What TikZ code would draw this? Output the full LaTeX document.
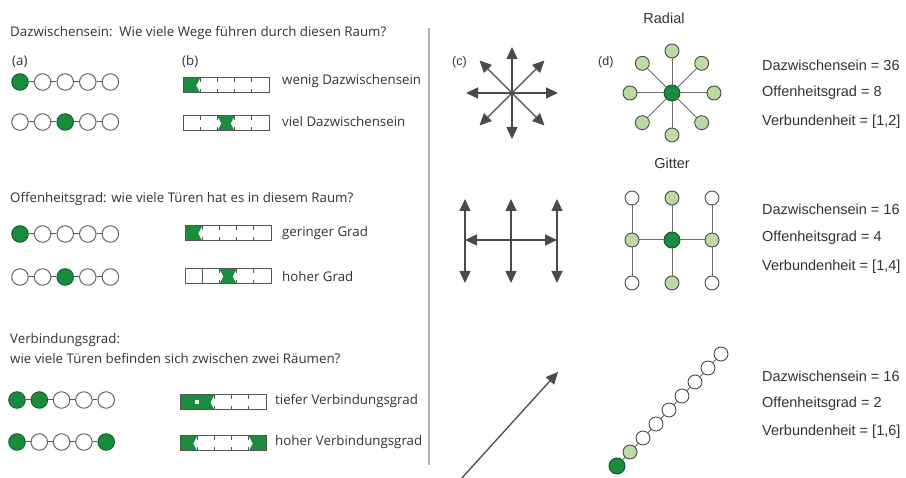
\documentclass[tikz,border=0pt]{standalone}
\usepackage{fontspec}
\setmainfont{Open Sans}
\newfontfamily\arialf{Liberation Sans}
\usetikzlibrary{arrows.meta,calc}
\definecolor{dgreen}{HTML}{1B8C3C}
\definecolor{lgreen}{HTML}{B9DCA3}
\definecolor{txt}{HTML}{333333}
\definecolor{wallc}{HTML}{555555}
\definecolor{arrc}{HTML}{4A4A4A}
\newcommand\greenroom[5]{\fill[dgreen] ({#1+17.2*(#3-1)},#2) -- ({#1+17.2*#3},#2) -- ({#1+17.2*#3-#5},{#2+7.5}) -- ({#1+17.2*#3},{#2+15}) -- ({#1+17.2*(#3-1)},{#2+15}) -- ({#1+17.2*(#3-1)+#4},{#2+7.5}) -- cycle;}
\newcommand\roomticks[3]{\foreach \k in {#3} {\draw[wall] ({#1+17.2*\k},#2) -- ++(0,4) ({#1+17.2*\k},{#2+15}) -- ++(0,-4);}}
\newcommand\roomfull[3]{\foreach \k in {#3} {\draw[wall] ({#1+17.2*\k},#2) -- ++(0,15);}}
\newcommand\roomframe[2]{\draw[wall] (#1,#2) rectangle ++(86,15);}
\begin{document}
\begin{tikzpicture}[x=1pt,y=-1pt,
  ltext/.style={anchor=west,inner sep=0pt,text=txt,font=\fontsize{13.3}{15}\selectfont},
  rtext/.style={anchor=west,inner sep=0pt,text=txt,font=\arialf\fontsize{14.5}{16}\selectfont},
  wall/.style={draw=wallc,line width=1pt},
  wc/.style={circle,draw=wallc!90,line width=1pt,fill=white,minimum size=16.5pt,inner sep=0pt},
  gc/.style={wc,fill=dgreen,draw=dgreen!70!black},
  lk/.style={draw=wallc,line width=1pt},
  rn/.style={circle,draw=arrc,line width=0.9pt,fill=white,minimum size=14pt,inner sep=0pt},
  rl/.style={rn,fill=lgreen},
  rd/.style={rn,fill=dgreen,draw=dgreen!60!black,minimum size=16pt},
  rk/.style={draw=arrc!80,line width=1pt},
  arr/.style={draw=arrc,line width=1.3pt,-{Triangle[length=12pt,width=11pt]}},
  darr/.style={draw=arrc,line width=1.3pt,{Triangle[length=12pt,width=11pt]}-{Triangle[length=12pt,width=11pt]}}
]
\useasboundingbox (0,0) rectangle (906,478);
\fill[white] (0,0) rectangle (906,478);

% separator
\draw[draw=black!30,line width=1.2pt] (429,28) -- (429,465);

% ---------- Section 1 ----------
\node[ltext] (t1) at (10,33) {Dazwischensein:\, Wie viele Wege führen durch diesen Raum?};
\node[ltext] (la) at (12,62) {(a)};
\node[ltext] (lb) at (182,62) {(b)};
\foreach \i/\s in {1/gc,2/wc,3/wc,4/wc,5/wc} \node[\s] (pa\i) at ({20+22.6*(\i-1)},82) {};
\foreach \i/\s in {1/wc,2/wc,3/gc,4/wc,5/wc} \node[\s] (pb\i) at ({20+22.6*(\i-1)},122) {};
\foreach \i [evaluate=\i as \j using int(\i+1)] in {1,...,4} {\draw[lk] (pa\i) -- (pa\j); \draw[lk] (pb\i) -- (pb\j);}
\greenroom{183}{78}{1}{0}{4}
\roomframe{183}{78}
\roomticks{183}{78}{1,2,3,4}
\greenroom{183}{116}{3}{4}{4}
\roomframe{183}{116}
\roomticks{183}{116}{1,2,3,4}
\node[ltext] (w1) at (282,81) {wenig Dazwischensein};
\node[ltext] (w2) at (282,122) {viel Dazwischensein};

% ---------- Section 2 ----------
\node[ltext] (t2) at (10,199) {Offenheitsgrad: wie viele Türen hat es in diesem Raum?};
\foreach \i/\s in {1/gc,2/wc,3/wc,4/wc,5/wc} \node[\s] (qa\i) at ({20+22.6*(\i-1)},234) {};
\foreach \i/\s in {1/wc,2/wc,3/gc,4/wc,5/wc} \node[\s] (qb\i) at ({20+22.6*(\i-1)},277) {};
\foreach \i [evaluate=\i as \j using int(\i+1)] in {1,...,4} {\draw[lk] (qa\i) -- (qa\j); \draw[lk] (qb\i) -- (qb\j);}
\greenroom{185}{226}{1}{0}{4}
\roomframe{185}{226}
\roomticks{185}{226}{1,2,3,4}
\greenroom{185}{269}{3}{4}{4}
\roomframe{185}{269}
\roomfull{185}{269}{1}
\roomticks{185}{269}{2,3,4}
\node[ltext] (g1) at (282,233) {geringer Grad};
\node[ltext] (g2) at (282,277) {hoher Grad};

% ---------- Section 3 ----------
\node[ltext] (t3) at (10,340) {Verbindungsgrad:};
\node[ltext] (t4) at (10,359) {wie viele Türen befinden sich zwischen zwei Räumen?};
\foreach \i/\s in {1/gc,2/gc,3/wc,4/wc,5/wc} \node[\s] (ra\i) at ({17+22.3*(\i-1)},400) {};
\foreach \i/\s in {1/gc,2/wc,3/wc,4/wc,5/gc} \node[\s] (rb\i) at ({17+22.3*(\i-1)},442) {};
\foreach \i [evaluate=\i as \j using int(\i+1)] in {1,...,4} {\draw[lk] (ra\i) -- (ra\j); \draw[lk] (rb\i) -- (rb\j);}
\fill[dgreen] (180,395) -- (214.4,395) -- (210.4,402.5) -- (214.4,410) -- (180,410) -- cycle;
\fill[white] (195.2,400.5) rectangle (199.2,404.5);
\roomframe{180}{395}
\roomticks{180}{395}{2,3,4}
\greenroom{180}{436}{1}{0}{4}
\greenroom{180}{436}{5}{4}{0}
\roomframe{180}{436}
\roomticks{180}{436}{1,2,3,4}
\node[ltext] (v1) at (275,401) {tiefer Verbindungsgrad};
\node[ltext] (v2) at (275,442) {hoher Verbindungsgrad};

% ---------- Right: Radial ----------
\node[rtext,anchor=center] (rad) at (664,18) {Radial};
\node[rtext,font=\arialf\fontsize{12.5}{14}\selectfont] (lc) at (452,62) {(c)};
\node[rtext,font=\arialf\fontsize{12.5}{14}\selectfont] (ld) at (598,62) {(d)};
\coordinate (sc) at (512,93);
\foreach \a in {0,45,...,315} {\coordinate (se\a) at ($(sc)+(\a:46)$);}
\foreach \a in {0,45,...,315} {\draw[arr] (sc) -- (se\a);}
\node[rd] (dc) at (672,93) {};
\foreach \a in {0,45,...,315} {\node[rl] (dn\a) at ($(dc)+(\a:42)$) {};}
\foreach \a in {0,45,...,315} {\draw[rk] (dc) -- (dn\a);}
\node[rtext] (r1) at (762,65) {Dazwischensein = 36};
\node[rtext] (r2) at (762,93) {Offenheitsgrad = 8};
\node[rtext] (r3) at (762,122) {Verbundenheit = [1,2]};

% ---------- Right: Gitter ----------
\node[rtext,anchor=center] (git) at (672,163) {Gitter};
\foreach \x/\n in {465/a,511/b,557/c} {\coordinate (gt\n) at (\x,199); \coordinate (gb\n) at (\x,283);}
\foreach \n in {a,b,c} {\draw[darr] (gt\n) -- (gb\n);}
\coordinate (ghl) at (465,240);
\coordinate (ghr) at (557,240);
\draw[darr] (ghl) -- (ghr);
\node[rn] (m11) at (632,198) {};
\node[rl] (m12) at (672,198) {};
\node[rn] (m13) at (712,198) {};
\node[rl] (m21) at (632,240) {};
\node[rd] (m22) at (672,240) {};
\node[rl] (m23) at (712,240) {};
\node[rn] (m31) at (632,283) {};
\node[rl] (m32) at (672,283) {};
\node[rn] (m33) at (712,283) {};
\draw[rk] (m11) -- (m21) -- (m31);
\draw[rk] (m12) -- (m22) -- (m32);
\draw[rk] (m13) -- (m23) -- (m33);
\draw[rk] (m21) -- (m22) -- (m23);
\node[rtext] (s1) at (762,209) {Dazwischensein = 16};
\node[rtext] (s2) at (762,238) {Offenheitsgrad = 4};
\node[rtext] (s3) at (762,267) {Verbundenheit = [1,4]};

% ---------- Right: Linear ----------
\coordinate (la0) at (461,479);
\coordinate (la1) at (558,372);
\draw[arr] (la0) -- (la1);
\foreach \i/\s in {1/rd,2/rl,3/rn,4/rn,5/rn,6/rn,7/rn,8/rn,9/rn} \node[\s] (c\i) at ({617+13*(\i-1)},{466-14*(\i-1)}) {};
\foreach \i [evaluate=\i as \j using int(\i+1)] in {1,...,8} \draw[rk] (c\i) -- (c\j);
\node[rtext] (u1) at (762,376) {Dazwischensein = 16};
\node[rtext] (u2) at (762,404) {Offenheitsgrad = 2};
\node[rtext] (u3) at (762,432) {Verbundenheit = [1,6]};
\end{tikzpicture}
\end{document}
